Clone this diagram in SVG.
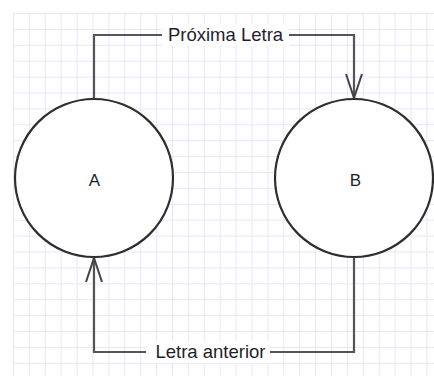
<svg xmlns="http://www.w3.org/2000/svg" width="434" height="376" viewBox="0 0 434 376">
  <defs>
    <pattern id="grid" x="13" y="13" width="15.9" height="15.9" patternUnits="userSpaceOnUse">
      <path d="M0 0.5H15.9M0.5 0V15.9" fill="none" stroke="#e6e6fb" stroke-width="1"/>
    </pattern>
    <marker id="open-arrow" viewBox="0 0 24 18" refX="24" refY="9" markerWidth="24" markerHeight="18" markerUnits="userSpaceOnUse" orient="auto">
      <path d="M0 1L24 9L0 17" fill="none" stroke="#444" stroke-width="2"/>
    </marker>
  </defs>
  <style>
    .state { fill: #ffffff; stroke: #2e2e2e; stroke-width: 2.2; }
    .edge { fill: none; stroke: #555; stroke-width: 2.2; stroke-linejoin: miter; }
    .label { font-family: "Liberation Sans", Arial, sans-serif; font-size: 18.5px; fill: #1f1f2a; }
    .name { font-family: "Liberation Sans", Arial, sans-serif; font-size: 17px; fill: #1f1f2a; text-anchor: middle; }
    .label-bg { fill: #ffffff; }
  </style>

  <rect width="434" height="376" fill="#ffffff"/>
  <rect x="13" y="13" width="421" height="363" fill="url(#grid)"/>

  <g id="connectors">
    <!-- A to B, over the top -->
    <path class="edge" d="M94 98V35H354V98" marker-end="url(#open-arrow)"/>
    <rect class="label-bg" x="162" y="24" width="127" height="22"/>
    <text class="label" x="225.5" y="41" text-anchor="middle">Próxima Letra</text>
    <!-- B back to A, along the bottom -->
    <path class="edge" d="M354 258V352H94V258" marker-end="url(#open-arrow)"/>
    <rect class="label-bg" x="146" y="341" width="124" height="22"/>
    <text class="label" x="210.5" y="357.5" text-anchor="middle">Letra anterior</text>
  </g>

  <g id="node-a">
    <circle class="state" cx="94" cy="178" r="79"/>
    <text class="name" x="94.5" y="185.5">A</text>
  </g>

  <g id="node-b">
    <circle class="state" cx="354" cy="178" r="79"/>
    <text class="name" x="355.5" y="185.5">B</text>
  </g>
</svg>
